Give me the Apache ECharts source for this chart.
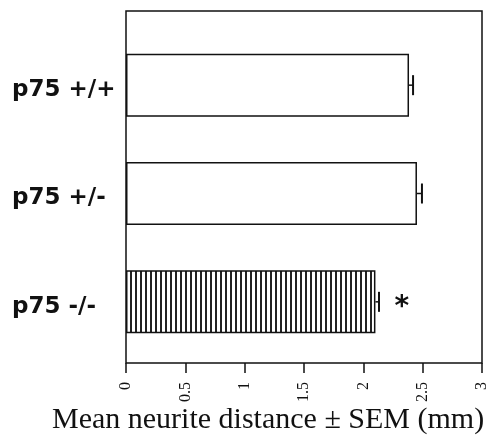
<!DOCTYPE html>
<html>
<head>
<meta charset="utf-8">
<script src="https://cdn.jsdelivr.net/npm/echarts@6/dist/echarts.min.js"></script>
<style>
html,body{margin:0;padding:0;background:#fff;}
#chart{width:498px;height:441px;}
</style>
</head>
<body>
<div id="chart"></div>
<script>
var groups=['p75 +/+','p75 +/-','p75 -/-'];
var means=[2.385,2.452,2.102];
var sems=[0.034,0.042,0.03];
var marks=['','','*'];

window.onload=function(){

    // stripe pattern for the knockout bar
    var stripe=document.createElement('canvas');
    stripe.width=5;
    stripe.height=10;
    var ctx=stripe.getContext('2d');
    ctx.fillStyle='#fff';
    ctx.fillRect(0,0,5,10);
    ctx.fillStyle='#222';
    ctx.fillRect(0,0,2,10);

    var barData=[];
    for(var i=0;i<means.length;i++){
        var item={value:means[i]};
        if(i==2){
            item.itemStyle={color:{image:stripe,repeat:'repeat'}};
        }
        if(marks[i]){
            item.label={show:true,position:'right',distance:19,formatter:marks[i],
                fontSize:28,fontWeight:'bold',fontFamily:'DejaVu Sans',color:'#111',offset:[0,6]};
        }
        barData.push(item);
    }

    var errData=[];
    for(var i=0;i<means.length;i++){
        errData.push([i,means[i],means[i]+sems[i]]);
    }

    var myChart=echarts.init(document.getElementById('chart'),null,{renderer:'canvas'});

    var option={
        animation:false,
        backgroundColor:'#fff',
        title:{
            text:'Mean neurite distance \u00b1 SEM (mm)',
            left:52,
            top:405,
            padding:0,
            textStyle:{fontFamily:'Liberation Serif',fontWeight:'normal',fontSize:30,color:'#111'}
        },
        grid:[
            {left:126,right:16,top:31,bottom:85,containLabel:false},
            {left:126,right:16,top:11,bottom:78,show:true,borderColor:'#111',borderWidth:1.5,backgroundColor:'transparent'}
        ],
        xAxis:[
            {
                type:'value',gridIndex:0,min:0,max:3,interval:0.5,position:'bottom',offset:7,
                axisLine:{show:false},
                axisTick:{show:true,inside:false,length:10,lineStyle:{color:'#111',width:1.5}},
                axisLabel:{rotate:90,margin:19,fontFamily:'Liberation Serif',fontSize:16,color:'#111',
                    formatter:function(v){return String(v);}},
                splitLine:{show:false}
            },
            {type:'value',gridIndex:1,min:0,max:3,show:false}
        ],
        yAxis:[
            {
                type:'category',gridIndex:0,data:groups,inverse:true,
                axisLine:{show:false},
                axisTick:{show:false},
                axisLabel:{margin:114,align:'left',color:'#111',
                    formatter:function(v){return '{g|'+v+'}';},
                    rich:{g:{fontFamily:'DejaVu Sans',fontWeight:'bold',fontSize:23,color:'#111',padding:[10,0,0,0]}}}
            },
            {type:'category',gridIndex:1,data:groups,show:false}
        ],
        series:[
            {
                type:'bar',
                xAxisIndex:0,yAxisIndex:0,
                data:barData,
                barWidth:63,
                itemStyle:{color:'#fff',borderColor:'#111',borderWidth:1.5}
            },
            {
                type:'custom',
                xAxisIndex:0,yAxisIndex:0,
                data:errData,
                z:5,
                renderItem:function(params,api){
                    var a=api.coord([api.value(1),api.value(0)]);
                    var b=api.coord([api.value(2),api.value(0)]);
                    var h=10;
                    return {
                        type:'group',
                        children:[
                            {type:'line',shape:{x1:a[0],y1:a[1],x2:b[0],y2:b[1]},style:{stroke:'#111',lineWidth:1.5}},
                            {type:'line',shape:{x1:b[0],y1:b[1]-h,x2:b[0],y2:b[1]+h},style:{stroke:'#111',lineWidth:2}}
                        ]
                    };
                }
            }
        ]
    };

    myChart.setOption(option);
}
</script>
</body>
</html>
